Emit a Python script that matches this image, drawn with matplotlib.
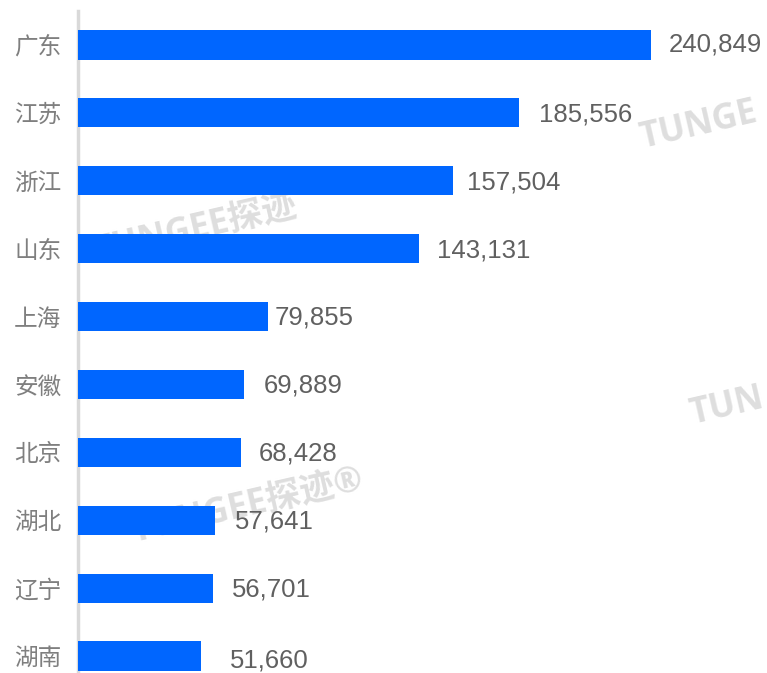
import numpy as np
import matplotlib.pyplot as plt

#--------------------------------------------------------------------------------------------------------------------------------
#Datos
provincias = ['广东', '江苏', '浙江', '山东', '上海', '安徽', '北京', '湖北', '辽宁', '湖南']
valores = [240849, 185556, 157504, 143131, 79855, 69889, 68428, 57641, 56701, 51660]
etiquetas = ['240,849', '185,556', '157,504', '143,131', '79,855', '69,889', '68,428', '57,641', '56,701', '51,660']

#desplazamiento de cada etiqueta (puntos)
desp_x = [13, 14, 10, 13, 5, 14, 13, 14, 14, 21]
desp_y = [0, -1, -1, -1, -1, -1, -1, -1, -1, -3]

#--------------------------------------------------------------------------------------------------------------------------------
#Figura
fig = plt.figure(figsize=(7.67, 6.73), dpi=100)
ax = fig.add_axes([78/767, 0, 1 - 78/767, 1 - 11/673])
ax.set_zorder(2)

y = np.arange(len(provincias))
ax.barh(y, valores, height=0.43, color='#0066FF', zorder=3)

ax.set_xlim(0, 289600)
ax.set_ylim(9.25, -0.5)

for i in range(len(valores)):
    ax.annotate(etiquetas[i], (valores[i], y[i]), xytext=(desp_x[i], desp_y[i]),
                textcoords='offset points', ha='left', va='center',
                fontsize=18.5, color='#606060', family=['Liberation Sans', 'DejaVu Sans'], zorder=4)

ax.set_yticks(y)
ax.set_yticklabels(provincias, family=['Noto Sans CJK SC'], fontsize=17, color='#7f7f7f')
ax.tick_params(axis='y', length=0, pad=12)
ax.set_xticks([])

for s in ['top', 'right', 'bottom']:
    ax.spines[s].set_visible(False)
ax.spines['left'].set_color('#d9d9d9')
ax.spines['left'].set_linewidth(2.5)
ax.patch.set_alpha(0)

#--------------------------------------------------------------------------------------------------------------------------------
#Marcas de agua
marcas = [(95/767, 1 - 262/673, 'TUNGEE探迹'),
          (133/767, 1 - 542/673, 'TUNGEE探迹®'),
          (642/767, 1 - 148/673, 'TUNGE'),
          (692/767, 1 - 424/673, 'TUN')]
for mx, my, txt in marcas:
    fig.text(mx, my, txt, rotation=13, rotation_mode='anchor', ha='left', va='baseline',
             fontsize=25, fontweight='bold', color='#dedede',
             family=['Open Sans', 'Noto Sans CJK SC'], zorder=1)

fig.savefig('out.png', dpi=100)
